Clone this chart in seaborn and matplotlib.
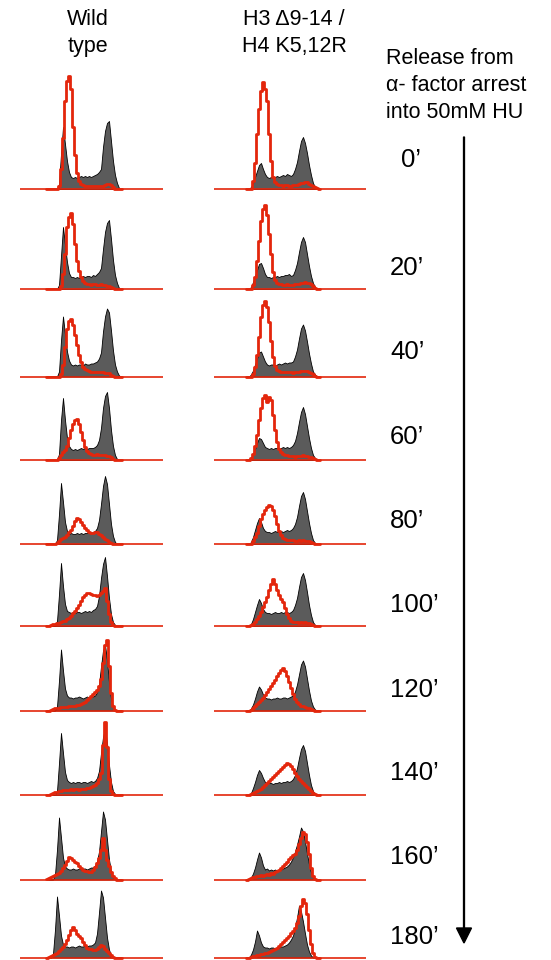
import numpy as np
import pandas as pd
import matplotlib
matplotlib.use("Agg")
import matplotlib.pyplot as plt
import seaborn as sns

# ---------------------------------------------------------------------------
# Time points after release (minutes) and strain headers
TIMES = ["0\u2019", "20\u2019", "40\u2019", "60\u2019", "80\u2019",
         "100\u2019", "120\u2019", "140\u2019", "160\u2019", "180\u2019"]
STRAIN_WT = "Wild\ntype"
STRAIN_MUT = "H3 \u03949-14 /\nH4 K5,12R"
SIDE_NOTE = "Release from\n\u03b1- factor arrest\ninto 50mM HU"

# DNA-content histograms (counts per channel bin).
# *_fill: asynchronous reference profile (grey), *_line: released culture (red)
wt_fill_0 = [0,0,0,0,0,0,5,35,62,45,28,17,12,11,12,11,12,13,12,13,12,13,12,13,14,15,17,20,42,58,66,68,48,28,14,6,1,0]
wt_line_0 = [0,0,0,0,0,0,3,20,51,88,108,113,100,62,34,16,8,5,4,3,3,3,3,3,3,3,3,3,3,4,5,5,4,2,0,0,0,0]
wt_fill_1 = [0,0,0,0,0,0,4,33,62,44,27,16,12,12,11,12,11,12,13,12,13,13,12,14,13,15,17,21,40,57,66,69,50,29,14,6,1,0]
wt_line_1 = [0,0,0,0,0,0,0,3,15,35,62,72,76,65,45,28,18,12,8,6,5,5,4,5,5,4,4,5,4,4,3,3,2,1,0,0,0,0]
wt_fill_2 = [0,0,0,0,0,0,5,36,60,42,25,16,12,11,12,11,12,12,11,13,12,12,13,13,14,15,18,24,45,60,68,64,46,26,12,5,1,0]
wt_line_2 = [0,0,0,0,0,0,0,3,12,30,48,56,58,52,42,32,22,15,10,8,7,6,5,5,5,5,5,5,5,4,4,4,2,1,0,0,0,0]
wt_fill_3 = [0,0,0,0,0,0,6,40,62,40,22,14,11,10,11,10,11,12,11,12,11,12,12,12,13,15,20,32,52,64,68,52,30,14,5,1,0,0]
wt_line_3 = [0,0,0,0,0,0,2,5,8,10,14,22,30,36,40,41,36,28,20,13,9,7,6,5,5,6,5,5,5,5,4,4,3,1,0,0,0,0]
wt_fill_4 = [0,0,0,0,0,4,30,61,42,22,13,10,11,10,10,11,10,11,10,11,11,12,11,12,13,16,24,40,58,68,60,40,20,8,2,0,0,0]
wt_line_4 = [0,0,0,0,0,1,3,5,6,7,9,12,14,18,23,26,25,22,19,16,14,12,11,11,12,12,10,9,7,5,4,2,1,0,0,0,0,0]
wt_fill_5 = [0,0,0,0,0,5,32,63,40,22,15,14,13,14,13,14,14,13,14,15,14,15,14,16,17,20,30,48,62,69,50,28,12,4,1,0,0,0]
wt_line_5 = [0,0,1,2,2,3,3,4,5,5,7,8,10,13,15,18,21,25,29,31,33,33,32,31,31,30,31,33,35,38,25,12,4,1,0,0,0,0]
wt_fill_6 = [0,0,0,0,0,4,30,61,40,22,15,13,13,12,13,13,14,13,12,13,14,13,14,14,15,18,26,44,60,66,50,28,12,4,1,0,0,0]
wt_line_6 = [0,0,1,2,3,3,3,4,4,4,4,5,5,5,5,6,6,7,8,9,11,13,15,17,19,21,25,32,48,66,71,45,18,5,1,0,0,0]
wt_fill_7 = [0,0,0,0,0,4,32,62,42,23,15,13,12,13,12,13,13,12,13,13,12,13,14,13,14,17,24,42,58,67,52,30,13,4,1,0,0,0]
wt_line_7 = [0,0,1,2,3,3,4,4,5,5,5,5,6,5,6,6,5,6,6,6,7,7,8,9,10,12,16,22,50,73,48,16,4,1,0,0,0,0]
wt_fill_8 = [0,0,0,0,5,30,62,42,22,13,11,10,10,11,10,10,11,10,11,11,10,11,12,12,14,18,28,48,68,60,40,20,8,2,0,0,0,0]
wt_line_8 = [1,2,3,4,5,6,7,9,12,15,19,23,22,20,18,17,14,12,10,9,9,8,8,10,13,17,22,30,42,30,20,14,8,4,2,0,0,0]
wt_fill_9 = [0,0,0,4,28,61,42,22,13,11,11,10,11,11,10,11,12,11,11,12,11,12,12,13,15,24,45,67,60,40,20,8,2,0,0,0,0,0]
wt_line_9 = [0,1,2,3,4,5,7,9,11,14,18,23,28,31,28,24,22,20,16,13,10,9,9,8,8,9,11,13,12,9,7,5,3,1,0,0,0,0]

mut_fill_0 = [0,0,2,6,12,18,24,26,20,15,12,11,12,11,12,13,12,13,14,13,15,14,13,15,20,27,38,48,52,46,36,24,14,6,2,0,0]
mut_line_0 = [0,0,0,8,26,55,80,98,107,100,88,55,28,12,7,5,4,4,3,4,4,3,3,4,4,4,5,6,6,7,7,5,4,3,2,1,0]
mut_fill_1 = [0,0,2,7,13,19,25,26,21,15,12,12,11,12,12,13,12,13,13,14,14,15,13,14,19,26,37,47,52,47,35,23,13,6,2,0,0]
mut_line_1 = [0,0,0,4,12,28,48,68,80,84,74,55,35,17,9,6,5,5,4,4,5,4,4,4,5,5,5,6,6,7,6,6,5,3,1,0,0]
mut_fill_2 = [0,0,2,6,12,18,24,25,20,15,12,11,12,12,11,12,13,12,13,14,13,14,14,15,20,27,38,48,52,46,35,23,13,5,2,0,0]
mut_line_2 = [0,0,0,3,10,22,40,60,72,76,70,55,36,20,11,7,6,5,5,5,5,5,5,4,5,5,5,6,6,6,6,5,4,3,1,0,0]
mut_fill_3 = [0,0,2,6,11,17,22,21,17,13,12,11,12,11,12,12,11,12,13,12,13,12,13,15,19,27,38,48,53,46,34,22,12,5,2,0,0]
mut_line_3 = [0,0,2,6,14,25,40,52,62,65,58,63,60,45,30,18,11,8,6,5,5,4,4,4,3,4,4,4,5,4,4,3,3,2,1,0,0]
mut_fill_4 = [0,0,2,7,14,21,26,22,16,13,12,12,11,12,13,12,12,13,12,13,14,13,14,16,20,27,38,48,52,45,33,21,11,4,1,0,0]
mut_line_4 = [0,0,0,3,7,11,18,25,30,34,37,39,38,34,28,20,13,9,6,5,4,4,4,4,3,3,4,3,4,3,3,3,2,1,0,0,0]
mut_fill_5 = [0,0,2,7,14,21,27,23,17,14,13,13,12,13,14,13,13,14,13,14,14,13,14,16,21,28,39,49,53,46,34,21,11,4,1,0,0]
mut_line_5 = [0,0,1,2,4,7,10,14,19,24,29,36,42,47,42,36,31,27,24,18,12,8,5,4,4,4,3,4,3,4,3,3,2,1,0,0,0]
mut_fill_6 = [0,0,2,6,12,19,24,21,16,13,12,12,11,12,12,13,12,12,13,13,12,13,14,15,19,26,36,46,50,44,32,20,10,4,1,0,0]
mut_line_6 = [0,0,1,3,5,7,9,11,13,16,19,22,25,28,31,35,38,41,43,40,35,29,23,17,12,9,7,5,5,4,3,3,2,1,0,0,0]
mut_fill_7 = [0,0,2,7,13,20,25,22,17,13,12,12,12,11,12,12,13,12,13,13,14,13,14,16,20,27,37,46,50,44,32,20,10,4,1,0,0]
mut_line_7 = [0,0,1,2,3,4,5,6,8,10,12,14,16,18,20,22,24,26,28,30,32,31,29,26,22,19,16,14,12,10,8,6,4,2,1,0,0]
mut_fill_8 = [0,0,2,6,12,20,27,22,14,10,11,9,10,9,10,9,10,10,11,12,13,15,18,22,28,35,43,52,48,38,26,15,7,2,0,0,0]
mut_line_8 = [0,1,2,3,3,4,4,5,4,5,6,5,7,6,8,9,10,12,14,16,18,21,23,25,26,30,36,42,48,46,38,26,12,4,1,0,0]
mut_fill_9 = [0,0,3,8,16,27,22,15,11,10,10,9,10,10,9,10,10,11,11,12,13,15,18,22,30,40,52,46,36,24,13,6,2,0,0,0,0]
mut_line_9 = [0,0,1,2,2,3,3,4,4,5,5,6,7,8,9,10,12,14,16,18,20,22,25,27,30,35,42,52,59,55,44,28,14,5,1,0,0]

WT_FILL = [wt_fill_0, wt_fill_1, wt_fill_2, wt_fill_3, wt_fill_4,
           wt_fill_5, wt_fill_6, wt_fill_7, wt_fill_8, wt_fill_9]
WT_LINE = [wt_line_0, wt_line_1, wt_line_2, wt_line_3, wt_line_4,
           wt_line_5, wt_line_6, wt_line_7, wt_line_8, wt_line_9]
MUT_FILL = [mut_fill_0, mut_fill_1, mut_fill_2, mut_fill_3, mut_fill_4,
            mut_fill_5, mut_fill_6, mut_fill_7, mut_fill_8, mut_fill_9]
MUT_LINE = [mut_line_0, mut_line_1, mut_line_2, mut_line_3, mut_line_4,
            mut_line_5, mut_line_6, mut_line_7, mut_line_8, mut_line_9]

# ---------------------------------------------------------------------------
# Long-form table of every histogram bin
records = []
for strain, fills, lines in (("wt", WT_FILL, WT_LINE), ("mut", MUT_FILL, MUT_LINE)):
    for t, (fv, lv) in enumerate(zip(fills, lines)):
        for series, vals in (("fill", fv), ("line", lv)):
            for ch, v in enumerate(vals):
                records.append((strain, t, series, ch + 0.5, float(v)))
df = pd.DataFrame(records, columns=["strain", "time", "series", "channel", "count"])

# ---------------------------------------------------------------------------
# Layout (figure pixels)
W, H = 551, 960
ROW_BASE = [189, 289, 376.5, 460, 544, 626, 710.5, 795, 879.5, 957.5]
COLS = {
    # axis left/right in px, px position of channel 0, px per channel
    "wt": dict(x0=20, x1=163, ch0=46, step=2.0),
    "mut": dict(x0=214, x1=366, ch0=246, step=2.0),
}
PAD_LO, PAD_HI = 5, 118          # counts below / above baseline shown in each panel
TIME_X = [401, 390, 390, 390, 390, 390, 390, 390, 390, 390]
TIME_Y = [160, 268, 352, 437, 521, 605, 690, 773, 857, 937]

RED = "#e3260c"
GREY = "#5b5b5b"

sns.set_theme(style="white")
plt.rcParams["font.family"] = ["Liberation Sans", "DejaVu Sans"]

fig = plt.figure(figsize=(W / 100, H / 100), dpi=100)

for strain, spec in COLS.items():
    sub_s = df[df["strain"] == strain]
    nbins = int(sub_s["channel"].max() + 0.5)
    xlo = (spec["x0"] - spec["ch0"]) / spec["step"]
    xhi = (spec["x1"] - spec["ch0"]) / spec["step"]
    for t, base in enumerate(ROW_BASE):
        bottom_px = base + PAD_LO
        ax = fig.add_axes([spec["x0"] / W, 1 - bottom_px / H,
                           (spec["x1"] - spec["x0"]) / W, (PAD_LO + PAD_HI) / H])
        ax.patch.set_alpha(0)
        panel = sub_s[sub_s["time"] == t]
        sns.histplot(data=panel[panel["series"] == "fill"], x="channel", weights="count",
                     binwidth=1, binrange=(0, nbins), element="poly", fill=True,
                     color=GREY, alpha=1, edgecolor="black", linewidth=0.6, ax=ax)
        ax.axhline(0, color=RED, lw=1.2, zorder=3)
        sns.histplot(data=panel[panel["series"] == "line"], x="channel", weights="count",
                     binwidth=1, binrange=(0, nbins), element="step", fill=False,
                     color=RED, linewidth=2.0, ax=ax, zorder=4)
        ax.set_xlim(xlo, xhi)
        ax.set_ylim(-PAD_LO, PAD_HI)
        ax.set_axis_off()

# Overlay for headers, time labels and the time arrow
ov = fig.add_axes([0, 0, 1, 1])
ov.set_xlim(0, W)
ov.set_ylim(H, 0)
ov.set_axis_off()
ov.patch.set_alpha(0)

hdr = dict(fontsize=15.5, color="black", ha="center", va="baseline")
for i, line in enumerate(STRAIN_WT.split("\n")):
    ov.text(88, 25 + 27 * i, line, **hdr)
for i, line in enumerate(STRAIN_MUT.split("\n")):
    ov.text(294, 25 + 27 * i, line, **hdr)
for i, line in enumerate(SIDE_NOTE.split("\n")):
    ov.text(386, 64 + 27 * i, line, fontsize=15.5, color="black", ha="left", va="baseline")

for lab, x, y in zip(TIMES, TIME_X, TIME_Y):
    ov.text(x, y, lab, fontsize=18.5, color="black", ha="left", va="center")

ov.arrow(464, 137, 0, 806, width=0.9, head_width=15, head_length=15,
         length_includes_head=True, color="black")

fig.savefig("out.png", dpi=100)
